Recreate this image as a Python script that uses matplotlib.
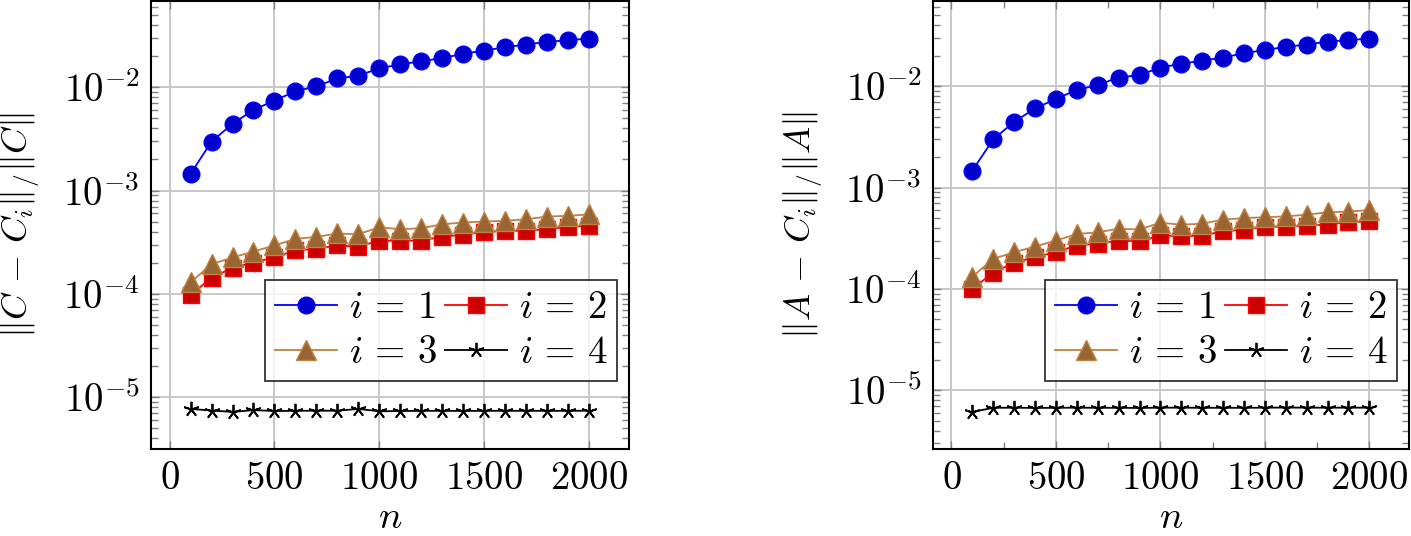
import matplotlib
matplotlib.use("Agg")
import matplotlib.pyplot as plt
from matplotlib.ticker import FuncFormatter, LogLocator, MultipleLocator, NullFormatter, NullLocator
import numpy as np

plt.rcParams['mathtext.fontset'] = 'cm'
plt.rcParams['font.family'] = 'serif'
plt.rcParams['font.serif'] = ['DejaVu Serif']

n = [100, 200, 300, 400, 500, 600, 700, 800, 900, 1000,
     1100, 1200, 1300, 1400, 1500, 1600, 1700, 1800, 1900, 2000]

# left panel: ||C - C_i|| / ||C||
c_i1 = [1.45e-3, 2.98e-3, 4.42e-3, 6.04e-3, 7.43e-3, 9.14e-3, 1.02e-2, 1.22e-2, 1.29e-2, 1.53e-2,
        1.66e-2, 1.79e-2, 1.91e-2, 2.11e-2, 2.26e-2, 2.44e-2, 2.59e-2, 2.75e-2, 2.85e-2, 2.96e-2]
c_i2 = [9.8e-5, 1.43e-4, 1.79e-4, 2.01e-4, 2.26e-4, 2.63e-4, 2.73e-4, 2.94e-4, 2.87e-4, 3.28e-4,
        3.25e-4, 3.28e-4, 3.59e-4, 3.72e-4, 4.01e-4, 4.05e-4, 4.10e-4, 4.22e-4, 4.45e-4, 4.55e-4]
c_i3 = [1.29e-4, 1.94e-4, 2.25e-4, 2.57e-4, 2.94e-4, 3.41e-4, 3.56e-4, 3.84e-4, 3.78e-4, 4.42e-4,
        4.22e-4, 4.32e-4, 4.72e-4, 4.90e-4, 5.01e-4, 5.09e-4, 5.28e-4, 5.60e-4, 5.69e-4, 5.89e-4]
c_i4 = [7.7e-6, 7.43e-6, 7.2e-6, 7.5e-6, 7.35e-6, 7.38e-6, 7.4e-6, 7.4e-6, 7.7e-6, 7.3e-6,
        7.35e-6, 7.38e-6, 7.38e-6, 7.36e-6, 7.38e-6, 7.38e-6, 7.38e-6, 7.38e-6, 7.38e-6, 7.4e-6]

# right panel: ||A - C_i|| / ||A||
a_i1 = [1.47e-3, 3.0e-3, 4.45e-3, 6.05e-3, 7.5e-3, 9.2e-3, 1.03e-2, 1.22e-2, 1.29e-2, 1.53e-2,
        1.67e-2, 1.79e-2, 1.92e-2, 2.12e-2, 2.28e-2, 2.45e-2, 2.58e-2, 2.76e-2, 2.85e-2, 2.96e-2]
a_i2 = [1.0e-4, 1.45e-4, 1.82e-4, 2.05e-4, 2.32e-4, 2.68e-4, 2.8e-4, 2.98e-4, 2.96e-4, 3.38e-4,
        3.3e-4, 3.36e-4, 3.7e-4, 3.83e-4, 4.08e-4, 4.12e-4, 4.2e-4, 4.32e-4, 4.55e-4, 4.65e-4]
a_i3 = [1.32e-4, 1.98e-4, 2.3e-4, 2.62e-4, 3.0e-4, 3.48e-4, 3.62e-4, 3.92e-4, 3.86e-4, 4.5e-4,
        4.3e-4, 4.4e-4, 4.82e-4, 5.0e-4, 5.1e-4, 5.2e-4, 5.4e-4, 5.7e-4, 5.8e-4, 6.0e-4]
a_i4 = [6.1e-6, 6.7e-6, 6.72e-6, 6.68e-6, 6.7e-6, 6.72e-6, 6.7e-6, 6.7e-6, 6.68e-6, 6.72e-6,
        6.72e-6, 6.7e-6, 6.7e-6, 6.7e-6, 6.72e-6, 6.74e-6, 6.72e-6, 6.72e-6, 6.72e-6, 6.72e-6]

labels = [r'$i\,=\,1$', r'$i\,=\,2$', r'$i\,=\,3$', r'$i\,=\,4$']
left_label = r'$\|C\,-\,C_i\|_{/}\|C\|$'
right_label = r'$\|A\,-\,C_i\|_{/}\|A\|$'

FS = 28

styles = [
    dict(color=(0, 0, 1), marker='o', ms=12, mfc=(0, 0, 0.8), mec=(0, 0, 1)),
    dict(color=(1, 0, 0), marker='s', ms=11, mfc=(0.8, 0, 0), mec=(1, 0, 0)),
    dict(color=(0.75, 0.5, 0.25), marker='^', ms=15, mfc=(0.6, 0.4, 0.2), mec=(0.75, 0.5, 0.25)),
    dict(color='black', marker=(5, 2, 0), ms=11, mfc='black', mec='black', mew=1.3),
]

fig = plt.figure(figsize=(14.11, 5.36), dpi=100)
ax1 = fig.add_axes([0.1068, 0.1618, 0.339, 0.836])
ax2 = fig.add_axes([0.661, 0.1618, 0.3376, 0.836])


def draw(ax, series, ylab, minor_x):
    handles = []
    for ys, lab, st in zip(series, labels, styles):
        h, = ax.plot(n, ys, label=lab, lw=1.3, **st)
        handles.append(h)
    ax.set_yscale('log')
    # pgfplots style enlargement of 10%
    ax.set_xlim(n[0] - 0.1 * (n[-1] - n[0]), n[-1] + 0.1 * (n[-1] - n[0]))
    lo = np.log10(min(min(s) for s in series))
    hi = np.log10(max(max(s) for s in series))
    d = 0.1 * (hi - lo)
    ax.set_ylim(10 ** (lo - d), 10 ** (hi + d))

    ax.xaxis.set_major_locator(MultipleLocator(500))
    if minor_x:
        ax.xaxis.set_minor_locator(MultipleLocator(250))
    else:
        ax.xaxis.set_minor_locator(NullLocator())
    ax.yaxis.set_major_locator(LogLocator(base=10, numticks=10))
    ax.yaxis.set_minor_locator(LogLocator(base=10, subs=np.arange(2, 10), numticks=20))
    ax.yaxis.set_minor_formatter(NullFormatter())
    ax.xaxis.set_major_formatter(FuncFormatter(lambda v, p: r'$%d$' % v))
    ax.yaxis.set_major_formatter(FuncFormatter(lambda v, p: r'$10^{%d}$' % round(np.log10(v))))

    ax.tick_params(which='both', direction='in', top=True, right=True,
                   color='0.5', width=1.0, labelsize=FS)
    ax.tick_params(which='major', length=6)
    ax.tick_params(which='minor', length=5)
    ax.tick_params(axis='x', pad=8)
    ax.tick_params(axis='y', pad=8)
    ax.grid(True, which='major', color='0.78', lw=1.4)
    ax.set_axisbelow(True)
    for sp in ax.spines.values():
        sp.set_linewidth(1.5)

    ax.set_xlabel(r'$n$', fontsize=FS)
    ax.xaxis.set_label_coords(0.5, -0.112)
    ax.set_ylabel(ylab, fontsize=26)
    ax.yaxis.set_label_coords(-0.229, 0.5)

    # pgfplots fills legend rows first
    order = [0, 2, 1, 3]
    leg = ax.legend([handles[k] for k in order], [labels[k] for k in order],
                    ncol=2, loc='lower right', bbox_to_anchor=(0.9755, 0.1527),
                    fontsize=FS, frameon=True, fancybox=False, edgecolor='black',
                    handlelength=1.6, columnspacing=0.2, handletextpad=0.3,
                    borderpad=0.25, labelspacing=0.2, borderaxespad=0)
    leg.get_frame().set_linewidth(1.3)


draw(ax1, [c_i1, c_i2, c_i3, c_i4], left_label, False)
draw(ax2, [a_i1, a_i2, a_i3, a_i4], right_label, True)

fig.savefig('out.png', dpi=100)
